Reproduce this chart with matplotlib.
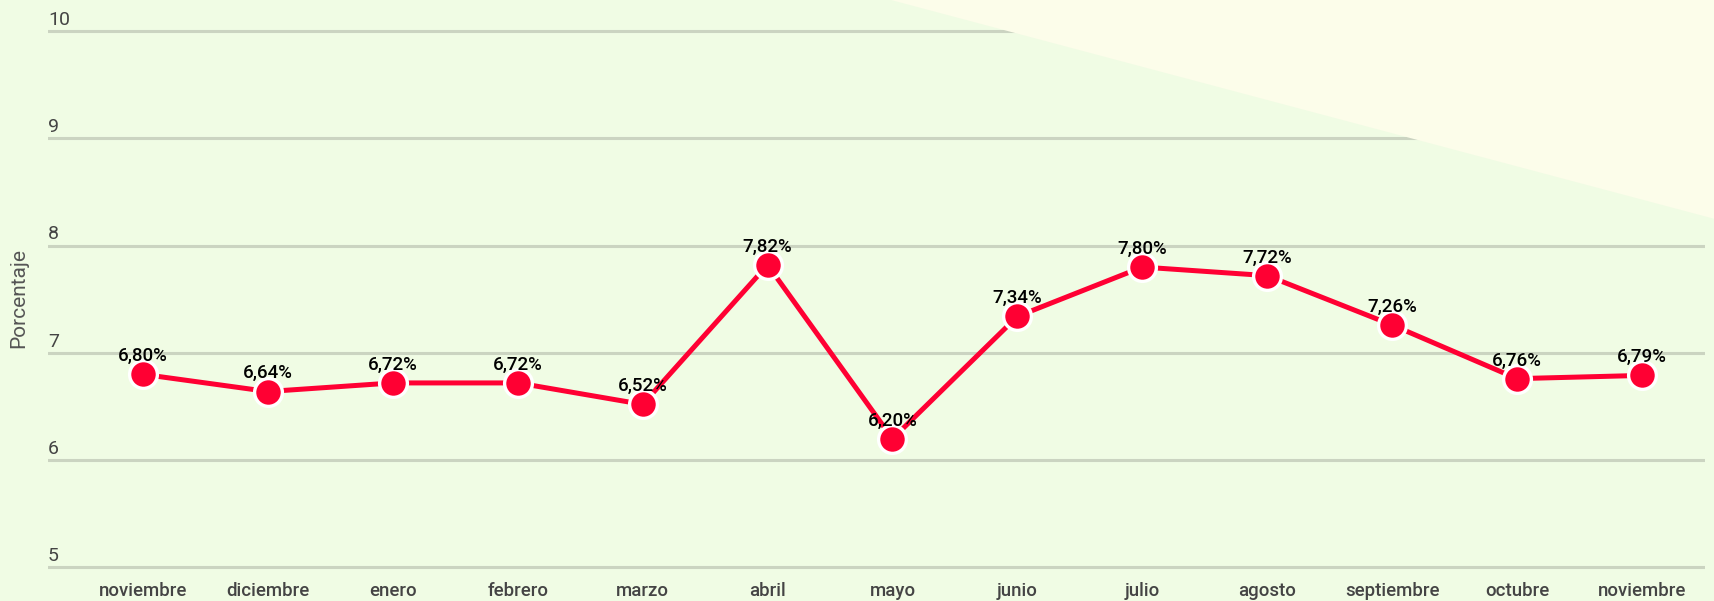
import matplotlib.pyplot as plt
from matplotlib.patches import Polygon

# --------------------
# Data
# --------------------
months = ["noviembre", "diciembre", "enero", "febrero", "marzo", "abril", "mayo",
          "junio", "julio", "agosto", "septiembre", "octubre", "noviembre"]
values = [6.80, 6.64, 6.72, 6.72, 6.52, 7.82, 6.20, 7.34, 7.80, 7.72, 7.26, 6.76, 6.79]
y_ticks = [5, 6, 7, 8, 9, 10]

# --------------------
# Chart setup
# --------------------
plt.rcParams["font.family"] = ["Roboto", "DejaVu Sans"]
fig = plt.figure(figsize=(17.15, 6.01), dpi=100)
fig.patch.set_facecolor("#F0FCE4")

# lighter wedge in the top-right corner
fig.patches.append(Polygon([(891 / 1715, 1), (1, 1), (1, 1 - 219 / 601)],
                           closed=True, transform=fig.transFigure,
                           facecolor="#FCFDEA", edgecolor="none", zorder=0))

ax = fig.add_axes([48 / 1715, 28.5 / 601, 1657 / 1715, 546.5 / 601])
ax.set_facecolor("none")

x = list(range(len(months)))
ax.plot(x, values, color="#FF0033", linewidth=3.6, zorder=3,
        marker="o", markersize=20, markerfacecolor="#FF0033",
        markeredgecolor="white", markeredgewidth=2.4)

for xi, v in zip(x, values):
    ax.annotate(f"{v:.2f}%".replace(".", ","), (xi, v), xytext=(0, 9.5),
                textcoords="offset points", ha="center", va="baseline",
                fontsize=13.5, fontweight="medium", color="#000000", zorder=4)

# --------------------
# Styling
# --------------------
ax.set_xlim(-0.761, 12.505)
ax.set_ylim(4.953, 10.047)
ax.set_yticks(y_ticks)
ax.set_yticklabels([])
ax.set_xticks(x)
ax.set_xticklabels(months, fontsize=13.4, fontweight="medium", color="#444444")
ax.tick_params(axis="both", length=0)
ax.tick_params(axis="x", pad=7)
ax.grid(True, axis="y", color="#CBD4C1", linewidth=2.2)
ax.set_axisbelow(True)
for s in ax.spines.values():
    s.set_visible(False)

for t in y_ticks:
    ax.annotate(str(t), (0, t), xycoords=("axes fraction", "data"),
                xytext=(0, 4.5), textcoords="offset points",
                ha="left", va="baseline", fontsize=14, color="#444444")

fig.text(19 / 1715, 1 - 298 / 601, "Porcentaje", rotation=90,
         ha="center", va="center", fontsize=15, color="#555555")

fig.savefig("out.png", dpi=100, facecolor=fig.get_facecolor())
